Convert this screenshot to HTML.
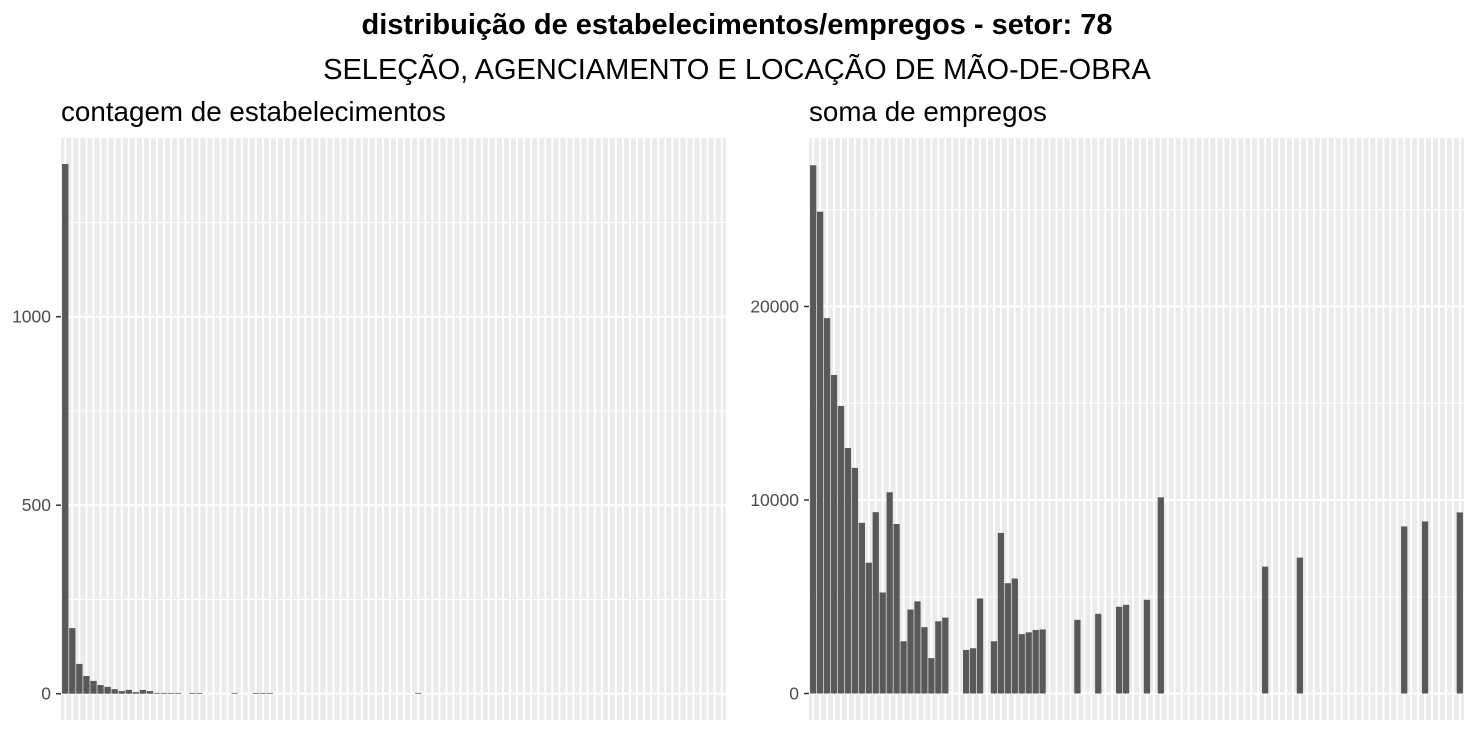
<!DOCTYPE html>
<html><head><meta charset="utf-8">
<style>
html,body{margin:0;padding:0;background:#fff;}
body{width:1476px;height:738px;overflow:hidden;font-family:"Liberation Sans",Arial,sans-serif;}
</style></head>
<body>
<svg id="chart" width="1476" height="738" xmlns="http://www.w3.org/2000/svg" font-family="Liberation Sans, Arial, sans-serif">
<text x="737" y="34" text-anchor="middle" font-size="29" font-weight="bold" fill="#000">distribuição de estabelecimentos/empregos - setor: 78</text>
<text x="737" y="79" text-anchor="middle" font-size="29" fill="#000">SELEÇÃO, AGENCIAMENTO E LOCAÇÃO DE MÃO-DE-OBRA</text>
<text x="61" y="121" font-size="27.8" fill="#000">contagem de estabelecimentos</text>
<text x="809" y="121" font-size="27.8" fill="#000">soma de empregos</text>
<g id="left"></g>
<g id="right"></g>
</svg>
<script>
const nCategories = 94;
const countValues = [1405,174,79,47,34,23,18,12,7,10,4,10,7,2,2,2,2,0,2,2,0,0,0,0,2,0,0,2,2,2,0,0,0,0,0,0,0,0,0,0,0,0,0,0,0,0,0,0,0,0,2];
const empValues = [27300,24900,19400,16460,14860,12690,11660,8820,6760,9370,5220,10400,8760,2700,4340,4760,3430,1830,3730,3920,0,0,2250,2340,4910,0,2700,8300,5700,5940,3070,3160,3280,3310,0,0,0,0,3806,0,0,4118,0,0,4481,4585,0,0,4844,0,10138,0,0,0,0,0,0,0,0,0,0,0,0,0,0,6557,0,0,0,0,7024,0,0,0,0,0,0,0,0,0,0,0,0,0,0,8633,0,0,8893,0,0,0,0,9360];
const countTicks = [0,500,1000];
const countMinor = [250,750,1250];
const empTicks = [0,10000,20000];
const empMinor = [5000,15000,25000];

const NS = "http://www.w3.org/2000/svg";
function mk(tag, attrs, parent){const e=document.createElementNS(NS,tag);for(const k in attrs)e.setAttribute(k,attrs[k]);parent.appendChild(e);return e;}

function panel(g, x0, x1, y0, y1, zeroY, unitPx, values, ticks, minor){
  const yScale = v => zeroY - v*unitPx;
  const p = (x1-x0)/(nCategories+0.2);
  const xScale = i => x0 + (i+0.6)*p;
  const bg = mk('rect',{x:x0,y:y0,width:x1-x0,height:y1-y0,fill:'#ebebeb'},g);
  
  
  minor.forEach(v=>{const y=yScale(v); if(y<y0) return;
    const l=mk('line',{x1:x0,x2:x1,y1:y,y2:y,stroke:'#fff','stroke-width':1},g);
    
    });
  ticks.forEach(v=>{const y=yScale(v);
    const l=mk('line',{x1:x0,x2:x1,y1:y,y2:y,stroke:'#fff','stroke-width':2},g);
    
    
    const t=mk('line',{x1:x0-5,x2:x0,y1:y,y2:y,stroke:'#333','stroke-width':1.5},g);
    
    
    const tx=mk('text',{x:x0-10,y:y+6,'text-anchor':'end','font-size':17.5,fill:'#4d4d4d'},g);
    tx.textContent=String(v);
    
    });
  for(let i=0;i<nCategories;i++){const x=xScale(i);
    const l=mk('line',{x1:x,x2:x,y1:y0,y2:y1,stroke:'#fff','stroke-width':2},g);
    
    }
  values.forEach((v,i)=>{ if(!v) return;
    const x=xScale(i)-0.45*p, y=yScale(v);
    const r=mk('rect',{x:x,y:y,width:0.9*p,height:zeroY-y,fill:'#595959'},g);
    
    });
}
panel(document.getElementById('left'),61,726,138,720,693.7,188.5/500,countValues,countTicks,countMinor);
panel(document.getElementById('right'),809,1464,138,720,693.5,193.5/10000,empValues,empTicks,empMinor);
</script>
</body></html>
